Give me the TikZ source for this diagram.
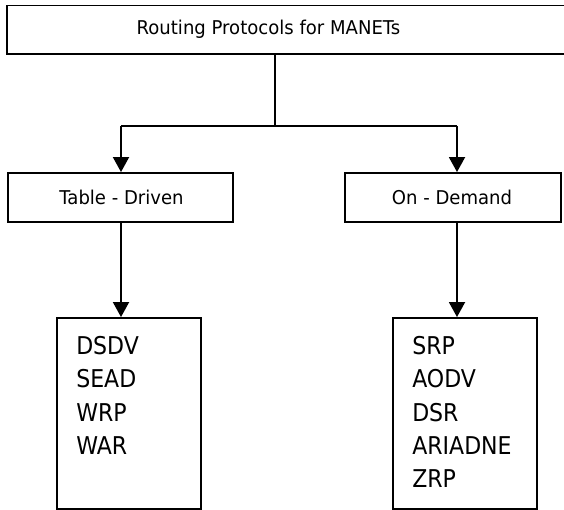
\documentclass[tikz,border=0pt]{standalone}
\usepackage{fontspec}
\setmainfont{DejaVu Sans}
\newfontfamily\headfont[FakeStretch=0.95]{DejaVu Sans}
\newfontfamily\listfont[FakeStretch=0.9]{DejaVu Sans}
\usepackage{tikz}
\usetikzlibrary{
    arrows.meta,
    positioning
}

\tikzset{
    box/.style={draw, line width=1.9pt, rectangle, inner sep=0pt},
    headtext/.style={inner sep=0pt, font=\headfont\fontsize{19}{22}\selectfont},
    listtext/.style={inner sep=0pt, align=left, font=\listfont\fontsize{24.5}{33.3}\selectfont},
    link/.style={line width=1.9pt},
    arrow/.style={line width=1.9pt, -{Triangle[length=15pt,width=16pt]}}
}

\begin{document}
\begin{tikzpicture}[x=1pt, y=-1pt]
                        \useasboundingbox (0, 0) rectangle (564, 510);

                        \node[box, minimum width=565pt, minimum height=48.5pt] (root) at (289.5, 29.75) {};
                        \node[headtext] (roottext) at (268.5, 29.75) {Routing Protocols for MANETs};

                        \node[box, minimum width=225pt, minimum height=49pt] (tdriven) at (120.5, 197.5) {};
                        \node[headtext] (tdriventext) at (121.5, 197.5) {Table - Driven};
                        \node[box, minimum width=216pt, minimum height=49pt] (odemand) at (453, 197.5) {};
                        \node[headtext] (odemandtext) at (452, 197.5) {On - Demand};

                        \node[box, minimum width=144pt, minimum height=191pt] (tdlist) at (129, 413.5) {};
                        \node[listtext, below right=19pt and 20pt of tdlist.north west] (tditems) {DSDV\\SEAD\\WRP\\WAR};
                        \node[box, minimum width=144pt, minimum height=191pt] (odlist) at (465, 413.5) {};
                        \node[listtext, below right=19pt and 20pt of odlist.north west] (oditems) {SRP\\AODV\\DSR\\ARIADNE\\ZRP};

                        \coordinate (fork) at (275, 126);
                        \coordinate (lsplit) at (121, 126);
                        \coordinate (rsplit) at (457, 126);

                        \draw[link] (root.south -| fork) -- (fork);
                        \draw[link] (lsplit) -- (rsplit);
                        \draw[arrow] (lsplit) -- (lsplit |- tdriven.north);
                        \draw[arrow] (rsplit) -- (rsplit |- odemand.north);
                        \draw[arrow] (tdriven.south -| lsplit) -- (tdlist.north -| lsplit);
                        \draw[arrow] (odemand.south -| rsplit) -- (odlist.north -| rsplit);
                    \end{tikzpicture}
\end{document}
